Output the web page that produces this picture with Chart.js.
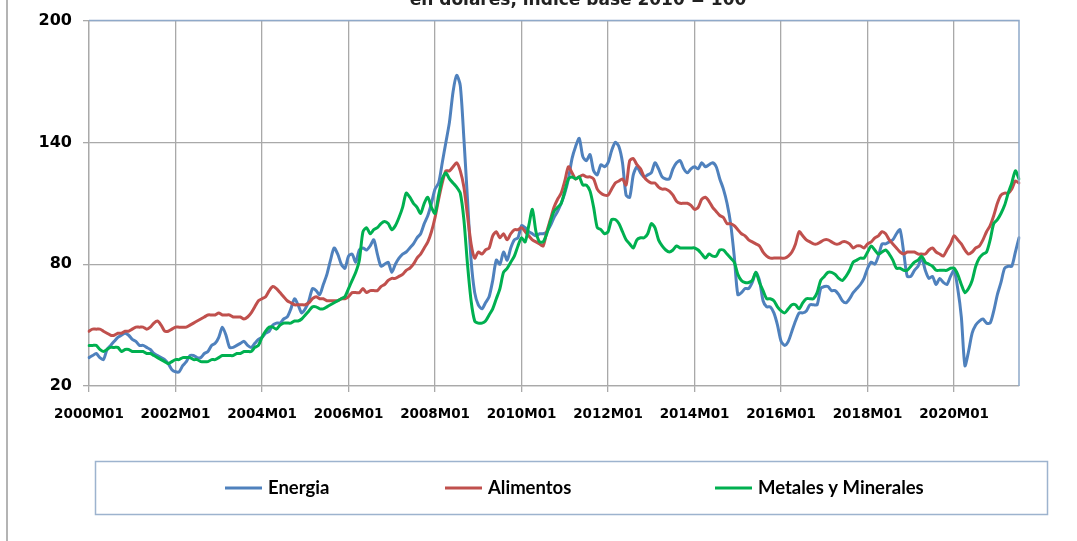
<!DOCTYPE html>
<html>
<head>
<meta charset="utf-8">
<script src="https://cdn.jsdelivr.net/npm/chart.js@4/dist/chart.umd.min.js"></script>
<style>
  html, body { margin: 0; padding: 0; background: #ffffff; }
  #wrap { width: 1077px; height: 541px; position: relative; }
</style>
</head>
<body>
<div id="wrap"><canvas id="c" width="1077" height="541"></canvas></div>
<script>
const subtitle = "en dólares, índice base 2010 = 100";
const seriesNames = ["Energia", "Alimentos", "Metales y Minerales"];
const yTicks = [20, 80, 140, 200];

// Monthly categories 2000M01 .. 2021M07
const categories = [];
for (let y = 2000; y <= 2021; y++) {
  for (let m = 1; m <= 12; m++) {
    if (y === 2021 && m > 7) break;
    categories.push(y + "M" + (m < 10 ? "0" + m : m));
  }
}

const energia = [
  34, 35, 36, 34, 33, 38, 40, 42, 44, 45, 46, 45,
  43, 42, 40, 40, 39, 38, 36, 35, 34, 33, 31, 28,
  27, 27, 30, 32, 35, 35, 34, 34, 36, 37, 40, 41,
  44, 49, 45, 39, 39, 40, 41, 42, 40, 39, 41, 43,
  44, 46, 47, 50, 51, 51, 53, 54, 58, 63, 60, 56,
  58, 62, 68, 67, 65, 70, 75, 82, 88, 85, 80, 78,
  84, 85, 81, 87, 88, 87, 89, 92, 85, 79, 80, 81,
  76, 80, 83, 85, 86, 88, 90, 93, 95, 100, 104, 110,
  117, 120, 130, 140, 150, 165, 173, 168, 142, 112, 82, 66,
  60, 58, 61, 64, 72, 82, 80, 86, 82, 88, 92, 93,
  99, 98, 96, 95, 94, 95, 95, 96, 99, 103, 106, 110,
  115, 122, 132, 138, 142, 133, 131, 134, 126, 124, 129, 128,
  130, 136, 140, 138, 130, 114, 113, 124, 128, 125, 123, 124,
  125, 130, 127, 123, 122, 122, 127, 130, 131, 127, 125, 127,
  128, 127, 130, 128, 129, 130, 128, 122, 117, 110, 100, 84,
  65, 66, 68, 68, 71, 76, 72, 62, 59, 59, 56, 50,
  42, 40, 42, 47, 52, 56, 56, 57, 60, 60, 60, 68,
  69, 69, 67, 67, 65, 62, 61, 63, 66, 68, 70, 73,
  78, 81, 80, 84, 90, 90, 91, 92, 95, 97, 86, 74,
  74, 77, 79, 83, 77, 73, 74, 70, 73, 71, 70, 74,
  77, 68, 54, 30, 37, 46, 50, 52, 53, 51, 51, 57,
  65, 71, 78, 79, 79, 86, 93
];

const alimentos = [
  47, 48, 48, 48, 47, 46, 45, 45, 46, 46, 47, 47,
  48, 49, 49, 49, 48, 49, 51, 52, 50, 47, 47, 48,
  49, 49, 49, 49, 50, 51, 52, 53, 54, 55, 55, 55,
  56, 55, 55, 55, 54, 54, 54, 53, 54, 56, 59, 62,
  63, 64, 67, 69, 68, 66, 64, 62, 61, 60, 60, 60,
  60, 61, 63, 64, 63, 63, 62, 62, 62, 62, 63, 63,
  64, 66, 66, 66, 68, 66, 67, 67, 67, 69, 70, 72,
  73, 73, 74, 75, 77, 78, 80, 83, 85, 88, 91, 96,
  103, 112, 120, 126, 126, 128, 130, 126, 118, 104, 90, 83,
  86, 85, 87, 88, 94, 96, 93, 95, 92, 95, 97, 97,
  98, 96, 94, 92, 91, 90, 89, 96, 102, 108, 112, 115,
  121, 128, 125, 122, 123, 124, 123, 123, 122, 117, 115, 114,
  114, 117, 120, 121, 122, 119, 131, 132, 129, 127, 123, 121,
  120, 120, 118, 117, 117, 116, 114, 111, 110, 110, 110, 109,
  107, 108, 112, 113, 111, 108, 106, 104, 103, 100, 100, 99,
  97, 95, 94, 92, 91, 90, 89, 86, 84, 83, 83, 83,
  83, 83, 84, 86, 90, 96, 94, 92, 91, 90, 90, 91,
  92, 92, 91, 90, 90, 91, 91, 90, 88, 89, 89, 88,
  90, 91, 93, 94, 96, 95, 92, 90, 88, 86, 85, 86,
  86, 86, 85, 85, 85, 87, 88, 86, 85, 84, 87, 90,
  94, 92, 90, 87, 85, 86, 88, 89, 92, 96, 99, 104,
  110, 114, 115, 115, 117, 121, 120
];

const metales = [
  40, 40, 40, 38, 37, 38, 39, 39, 39, 37, 38, 38,
  37, 37, 37, 37, 36, 36, 35, 34, 33, 32, 31, 32,
  33, 33, 34, 34, 34, 33, 33, 32, 32, 32, 33, 33,
  34, 35, 35, 35, 35, 36, 36, 37, 37, 37, 39, 40,
  44, 47, 49, 49, 48, 50, 51, 51, 51, 52, 52, 53,
  55, 57, 59, 59, 58, 58, 59, 60, 61, 62, 63, 64,
  68, 72, 76, 82, 96, 98, 95, 97, 98, 100, 101, 100,
  97, 99, 103, 108, 115, 113, 110, 108, 105, 110, 113, 108,
  105, 114, 122, 125, 122, 120, 118, 115, 102, 80, 62, 52,
  51, 51, 52, 55, 58, 63, 68, 76, 78, 81, 84, 89,
  93, 91, 99, 107, 96, 91, 91, 95, 101, 106, 108, 110,
  116, 122, 123, 122, 123, 119, 119, 116, 108, 98, 97, 95,
  96, 102, 102, 100, 96, 92, 90, 88, 92, 93, 93, 95,
  100, 98, 92, 89, 87, 86, 87, 89, 88, 88, 88, 88,
  88, 87, 85, 83, 85, 84, 84, 87, 87, 85, 83, 81,
  75, 72, 71, 71, 72, 76, 71, 67, 63, 63, 62, 59,
  57, 56, 58, 60, 60, 58, 61, 63, 63, 63, 66, 72,
  74, 76, 76, 75, 73, 72, 74, 77, 81, 82, 83, 83,
  86, 89, 87, 85, 86, 87, 85, 82, 78, 78, 77, 77,
  79, 81, 82, 84, 81, 80, 79, 77, 77, 77, 77, 78,
  78, 75, 70, 66, 68, 72, 79, 83, 85, 86, 92, 100,
  102, 105, 109, 115, 120, 126, 122
];

const colors = ["#4F81BD", "#C0504D", "#00B050"];
const GRID = "#A9A9A9";

const framePlugin = {
  id: "frame",
  beforeDraw(chart) {
    const ctx = chart.ctx;
    ctx.save();
    ctx.fillStyle = "#ffffff";
    ctx.fillRect(0, 0, chart.width, chart.height);
    ctx.strokeStyle = "#B4B4B4";
    ctx.lineWidth = 2;
    ctx.beginPath();
    ctx.moveTo(7, 0);
    ctx.lineTo(7, chart.height);
    ctx.stroke();
    ctx.restore();
  },
  afterDraw(chart) {
    const ctx = chart.ctx;
    const a = chart.chartArea;
    ctx.save();
    // plot frame top and right
    ctx.strokeStyle = "#8FA9C9";
    ctx.lineWidth = 1.5;
    ctx.beginPath();
    ctx.moveTo(a.left, a.top);
    ctx.lineTo(a.right, a.top);
    ctx.lineTo(a.right, a.bottom);
    ctx.stroke();
    // cut-off subtitle at the top
    ctx.fillStyle = "#222222";
    ctx.font = "bold 17px 'DejaVu Sans'";
    ctx.textAlign = "center";
    ctx.textBaseline = "alphabetic";
    ctx.fillText(subtitle, 578, 5);
    // legend box
    ctx.strokeStyle = "#9DB3CE";
    ctx.lineWidth = 1.5;
    ctx.strokeRect(95.5, 461.5, 952, 53);
    const xs = [225, 445, 715];
    const yMid = 488;
    ctx.font = "bold 18.5px Lato";
    ctx.textAlign = "left";
    ctx.textBaseline = "middle";
    chart.data.datasets.forEach((ds, i) => {
      ctx.strokeStyle = ds.borderColor;
      ctx.lineWidth = 3;
      ctx.beginPath();
      ctx.moveTo(xs[i], yMid);
      ctx.lineTo(xs[i] + 37, yMid);
      ctx.stroke();
      ctx.fillStyle = "#000000";
      ctx.fillText(ds.label, xs[i] + 43, yMid);
    });
    ctx.restore();
  }
};

new Chart(document.getElementById("c"), {
  type: "line",
  data: {
    labels: categories,
    datasets: [
      { label: seriesNames[0], data: energia, borderColor: colors[0], backgroundColor: colors[0], order: 3 },
      { label: seriesNames[1], data: alimentos, borderColor: colors[1], backgroundColor: colors[1], order: 2 },
      { label: seriesNames[2], data: metales, borderColor: colors[2], backgroundColor: colors[2], order: 1 }
    ]
  },
  options: {
    responsive: false,
    animation: false,
    devicePixelRatio: 1,
    elements: {
      point: { radius: 0 },
      line: { borderWidth: 3, tension: 0.25, borderCapStyle: "round", borderJoinStyle: "round" }
    },
    layout: { padding: { left: 0, right: 58, top: 18, bottom: 0 } },
    plugins: { legend: { display: false }, tooltip: { enabled: false }, title: { display: false } },
    scales: {
      x: {
        type: "category",
        offset: false,
        afterFit(scale) { scale.height = 541 - 386 - 0; },
        grid: { color: GRID, lineWidth: 1.3, tickLength: 6, drawTicks: true },
        border: { color: GRID, width: 1.3 },
        ticks: {
          autoSkip: false,
          maxRotation: 0,
          minRotation: 0,
          padding: 14,
          color: "#000000",
          font: { family: "DejaVu Sans", size: 13.5, weight: "bold" },
          callback(val, idx) { return idx % 24 === 0 ? categories[idx] : null; }
        }
      },
      y: {
        min: yTicks[0],
        max: yTicks[yTicks.length - 1],
        afterFit(scale) { scale.width = 89; },
        afterBuildTicks(scale) { scale.ticks = yTicks.map(v => ({ value: v })); },
        grid: { color: GRID, lineWidth: 1.3, tickLength: 6 },
        border: { color: GRID, width: 1.3 },
        ticks: {
          padding: 11,
          color: "#000000",
          font: { family: "DejaVu Sans", size: 16, weight: "bold" }
        }
      }
    }
  },
  plugins: [framePlugin]
});
</script>
</body>
</html>
